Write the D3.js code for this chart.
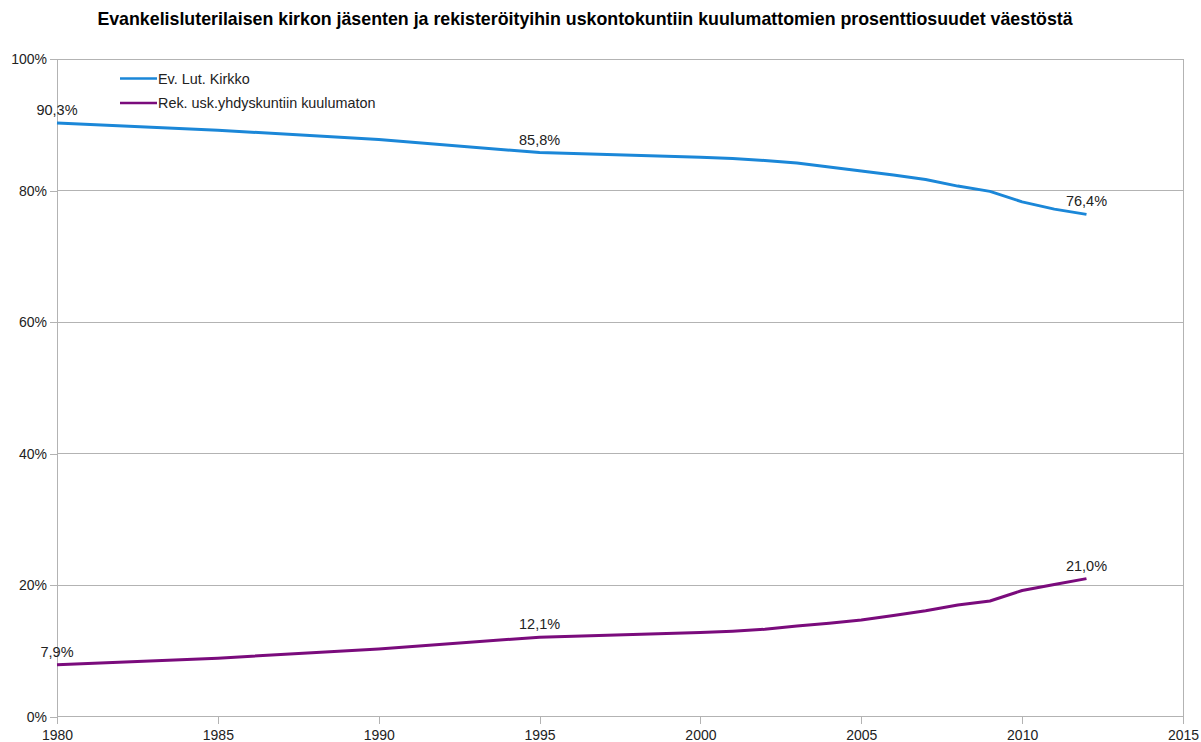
<!DOCTYPE html>
<html><head><meta charset="utf-8">
<script src="https://cdn.jsdelivr.net/npm/d3@7"></script>
<style>
body{margin:0;background:#fff;}
svg{display:block;font-family:"Liberation Sans",Arial,sans-serif;}
</style></head>
<body><svg id="c" width="1201" height="742"></svg>
<script>
const title = "Evankelisluterilaisen kirkon jäsenten ja rekisteröityihin uskontokuntiin kuulumattomien prosenttiosuudet väestöstä";
const years = [1980,1985,1990,1995,2000,2001,2002,2003,2004,2005,2006,2007,2008,2009,2010,2011,2012];
const evLut = [90.3,89.2,87.8,85.8,85.1,84.9,84.6,84.2,83.6,83.0,82.4,81.7,80.7,79.9,78.3,77.2,76.4];
const rek =   [7.9,8.9,10.3,12.1,12.8,13.0,13.3,13.8,14.2,14.7,15.4,16.1,17.0,17.6,19.2,20.1,21.0];
const seriesNames = ["Ev. Lut. Kirkko","Rek. usk.yhdyskuntiin kuulumaton"];
const seriesColors = ["#1b87d8","#7a0b7c"];
const xTicks = [1980,1985,1990,1995,2000,2005,2010,2015];
const yTicks = [0,20,40,60,80,100];
const labelYears = [1980,1995,2012];

const svg = d3.select("#c");
const x = d3.scaleLinear().domain([1980,2015]).range([57,1183]);
const y = d3.scaleLinear().domain([0,100]).range([716.7,59.2]);
const grid = "#b3b3b3";

// title
svg.append("text").attr("x",585).attr("y",25).attr("text-anchor","middle")
  .attr("font-weight","bold").attr("font-size",17.8).attr("fill","#000").text(title);

// gridlines
svg.append("g").selectAll("line").data(yTicks).join("line")
  .attr("x1",x(1980)).attr("x2",x(2015)).attr("y1",d=>y(d)).attr("y2",d=>y(d))
  .attr("stroke",grid).attr("stroke-width",1).attr("shape-rendering","crispEdges");
// right border
svg.append("line").attr("x1",x(2015)).attr("x2",x(2015)).attr("y1",y(100)).attr("y2",y(0))
  .attr("stroke",grid).attr("shape-rendering","crispEdges");

// axes
const yAxis = d3.axisLeft(y).tickValues(yTicks).tickFormat(d=>d+"%").tickSize(7).tickPadding(3);
const gy = svg.append("g").attr("transform",`translate(${x(1980)},0)`).call(yAxis);
const xAxis = d3.axisBottom(x).tickValues(xTicks).tickFormat(d3.format("d")).tickSize(7).tickPadding(6);
const gx = svg.append("g").attr("transform",`translate(0,${y(0)})`).call(xAxis);
[gx,gy].forEach(g=>{
  g.selectAll("path,line").attr("stroke",grid).attr("shape-rendering","crispEdges");
  g.selectAll("text").attr("font-size",14).attr("fill","#222").attr("font-family","Liberation Sans, Arial, sans-serif");
});
gx.select(".domain").remove();
gy.select(".domain").remove();
svg.append("line").attr("x1",x(1980)).attr("x2",x(2015)).attr("y1",y(0)).attr("y2",y(0)).attr("stroke",grid).attr("shape-rendering","crispEdges");
svg.append("line").attr("x1",x(1980)).attr("x2",x(1980)).attr("y1",y(100)).attr("y2",y(0)).attr("stroke",grid).attr("shape-rendering","crispEdges");

// lines
const series = [evLut, rek];
const line = d3.line().x(d=>x(d[0])).y(d=>y(d[1]));
series.forEach((vals,i)=>{
  const pts = years.map((yr,j)=>[yr,vals[j]]);
  svg.append("path").datum(pts).attr("d",line).attr("fill","none")
    .attr("stroke",seriesColors[i]).attr("stroke-width",3).attr("stroke-linejoin","round");
  svg.append("g").selectAll("text").data(pts.filter(p=>labelYears.includes(p[0]))).join("text")
    .attr("x",p=>x(p[0])).attr("y",p=>y(p[1])-8).attr("text-anchor","middle")
    .attr("font-size",14.5).attr("fill","#222")
    .text(p=>p[1].toFixed(1).replace(".",",")+"%");
});

// legend
const lg = svg.append("g");
seriesNames.forEach((n,i)=>{
  const yy = 78.5 + i*24.5;
  lg.append("line").attr("x1",120).attr("x2",157).attr("y1",yy).attr("y2",yy)
    .attr("stroke",seriesColors[i]).attr("stroke-width",2.5);
  lg.append("text").attr("x",158).attr("y",yy+5).attr("font-size",14.4).attr("fill","#222").text(n);
});
</script></body></html>
